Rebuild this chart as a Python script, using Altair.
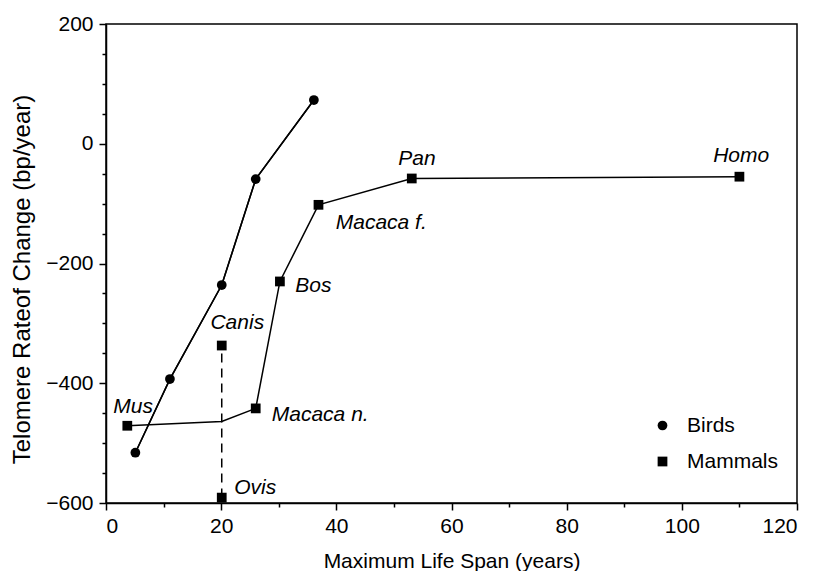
import altair as alt
import pandas as pd

# ---- data ----
bird_span = [5.1, 11.1, 20.1, 26.0, 36.1]
bird_rate = [-516, -393, -236, -59, 73]

mammal_names = ["Mus", "Canis", "Ovis", "Macaca n.", "Bos", "Macaca f.", "Pan", "Homo"]
mammal_span = [3.7, 20.1, 20.1, 26.0, 30.2, 36.9, 53.1, 110.0]
mammal_rate = [-471, -337, -591, -442, -230, -102, -58, -55]

# label anchors (data units, text centre)
label_x = [4.7, 22.8, 25.9, 37.2, 36.0, 47.8, 54.0, 110.3]
label_y = [-440, -300, -575, -453, -237, -132, -25, -20]

x_major = [0, 20, 40, 60, 80, 100, 120]
x_minor = [10, 30, 50, 70, 90, 110]
y_major = [-600, -400, -200, 0, 200]
y_minor = [-550, -500, -450, -350, -300, -250, -150, -100, -50, 50, 100, 150]

FONT = "Liberation Sans"

# ---- tables ----
birds = pd.DataFrame({"span": bird_span, "rate": bird_rate, "group": "Birds"})
mammals = pd.DataFrame({"span": mammal_span, "rate": mammal_rate,
                        "name": mammal_names, "group": "Mammals"})
# Canis / Ovis pair -> mean point used by the mammal line
pair = mammals[mammals["name"].isin(["Canis", "Ovis"])]
mean_pt = pd.DataFrame({"span": [pair["span"].mean()], "rate": [pair["rate"].mean()],
                        "name": ["mean"], "group": "Mammals"})
mline = pd.concat([mammals[~mammals["name"].isin(["Canis", "Ovis"])], mean_pt])
mline = mline.sort_values("span")
labels = pd.DataFrame({"lx": label_x, "ly": label_y, "name": mammal_names})
points = pd.concat([birds, mammals[["span", "rate", "group"]]])

xs = alt.Scale(domain=[0, 120], nice=False, zero=False)
ys = alt.Scale(domain=[-600, 200], nice=False, zero=False)

def X(field="span", axis=None):
    return alt.X(f"{field}:Q", scale=xs, axis=axis)

def Y(field="rate", axis=None):
    return alt.Y(f"{field}:Q", scale=ys, axis=axis)

major_x_axis = alt.Axis(values=x_major, orient="bottom", grid=False, tickSize=7,
                        tickWidth=1.5, domainWidth=1.5, domainColor="black",
                        tickColor="black", labelFont=FONT, labelFontSize=21,
                        labelColor="black", labelPadding=5,
                        title="Maximum Life Span (years)", titleFont=FONT,
                        titleFontSize=21, titleFontWeight="normal", titleColor="black",
                        titleX=345.5, titleY=64, titleAlign="center",
                        titleBaseline="alphabetic")
minor_x_axis = alt.Axis(values=x_minor, orient="bottom", grid=False, tickSize=4,
                        tickWidth=1.5, tickColor="black", labels=False, domain=False,
                        title=None)
major_y_axis = alt.Axis(values=y_major, orient="left", grid=False, tickSize=7,
                        tickWidth=1.5, domainWidth=1.5, domainColor="black",
                        tickColor="black", labelFont=FONT, labelFontSize=21,
                        labelColor="black", labelPadding=6,
                        title="Telomere Rateof Change (bp/year)", titleFont=FONT,
                        titleFontSize=24, titleFontWeight="normal", titleColor="black",
                        titleX=-83.5, titleY=255, titleAlign="center",
                        titleBaseline="middle", titleAngle=270)
minor_y_axis = alt.Axis(values=y_minor, orient="left", grid=False, tickSize=4,
                        tickWidth=1.5, tickColor="black", labels=False, domain=False,
                        title=None)

minor_layer = alt.Chart(birds).mark_line(color="black", strokeWidth=1.5).encode(
    x=X(axis=minor_x_axis), y=Y(axis=minor_y_axis), order="span:Q")

bird_line = alt.Chart(birds).mark_line(color="black", strokeWidth=1.5).encode(
    x=X(axis=major_x_axis), y=Y(axis=major_y_axis), order="span:Q")

mammal_line = alt.Chart(mline).mark_line(color="black", strokeWidth=1.5).encode(
    x=X(), y=Y(), order="span:Q")

dashed = alt.Chart(pair).mark_line(color="black", strokeWidth=1.5,
                                   strokeDash=[9, 6]).encode(
    x=X(), y=Y(), order="rate:Q")

pts = alt.Chart(points).mark_point(filled=True, opacity=1, color="black").encode(
    x=X(), y=Y(),
    shape=alt.Shape("group:N",
                    scale=alt.Scale(domain=["Birds", "Mammals"], range=["circle", "square"]),
                    legend=alt.Legend(title=None, orient="none", legendX=546, legendY=391,
                                      labelFont=FONT, labelFontSize=21, labelColor="black",
                                      symbolSize=95, symbolFillColor="black",
                                      symbolStrokeColor="black", symbolOpacity=1,
                                      rowPadding=14, labelOffset=14)),
    size=alt.value(95))

texts = alt.Chart(labels).mark_text(font=FONT, fontSize=21, fontStyle="italic",
                                    color="black", align="center",
                                    baseline="middle").encode(
    x=X("lx"), y=Y("ly"), text="name:N")

chart = alt.layer(minor_layer, bird_line, mammal_line, dashed, pts, texts).resolve_axis(
    x="independent", y="independent"
).properties(
    width=691, height=479,
    autosize=alt.AutoSizeParams(type="none"),
    padding={"left": 98, "top": 16, "right": 8, "bottom": 68},
    background="white",
).configure_view(stroke="black", strokeWidth=1.5)

chart.save("out.html", embed_options={"renderer": "svg", "actions": False})
